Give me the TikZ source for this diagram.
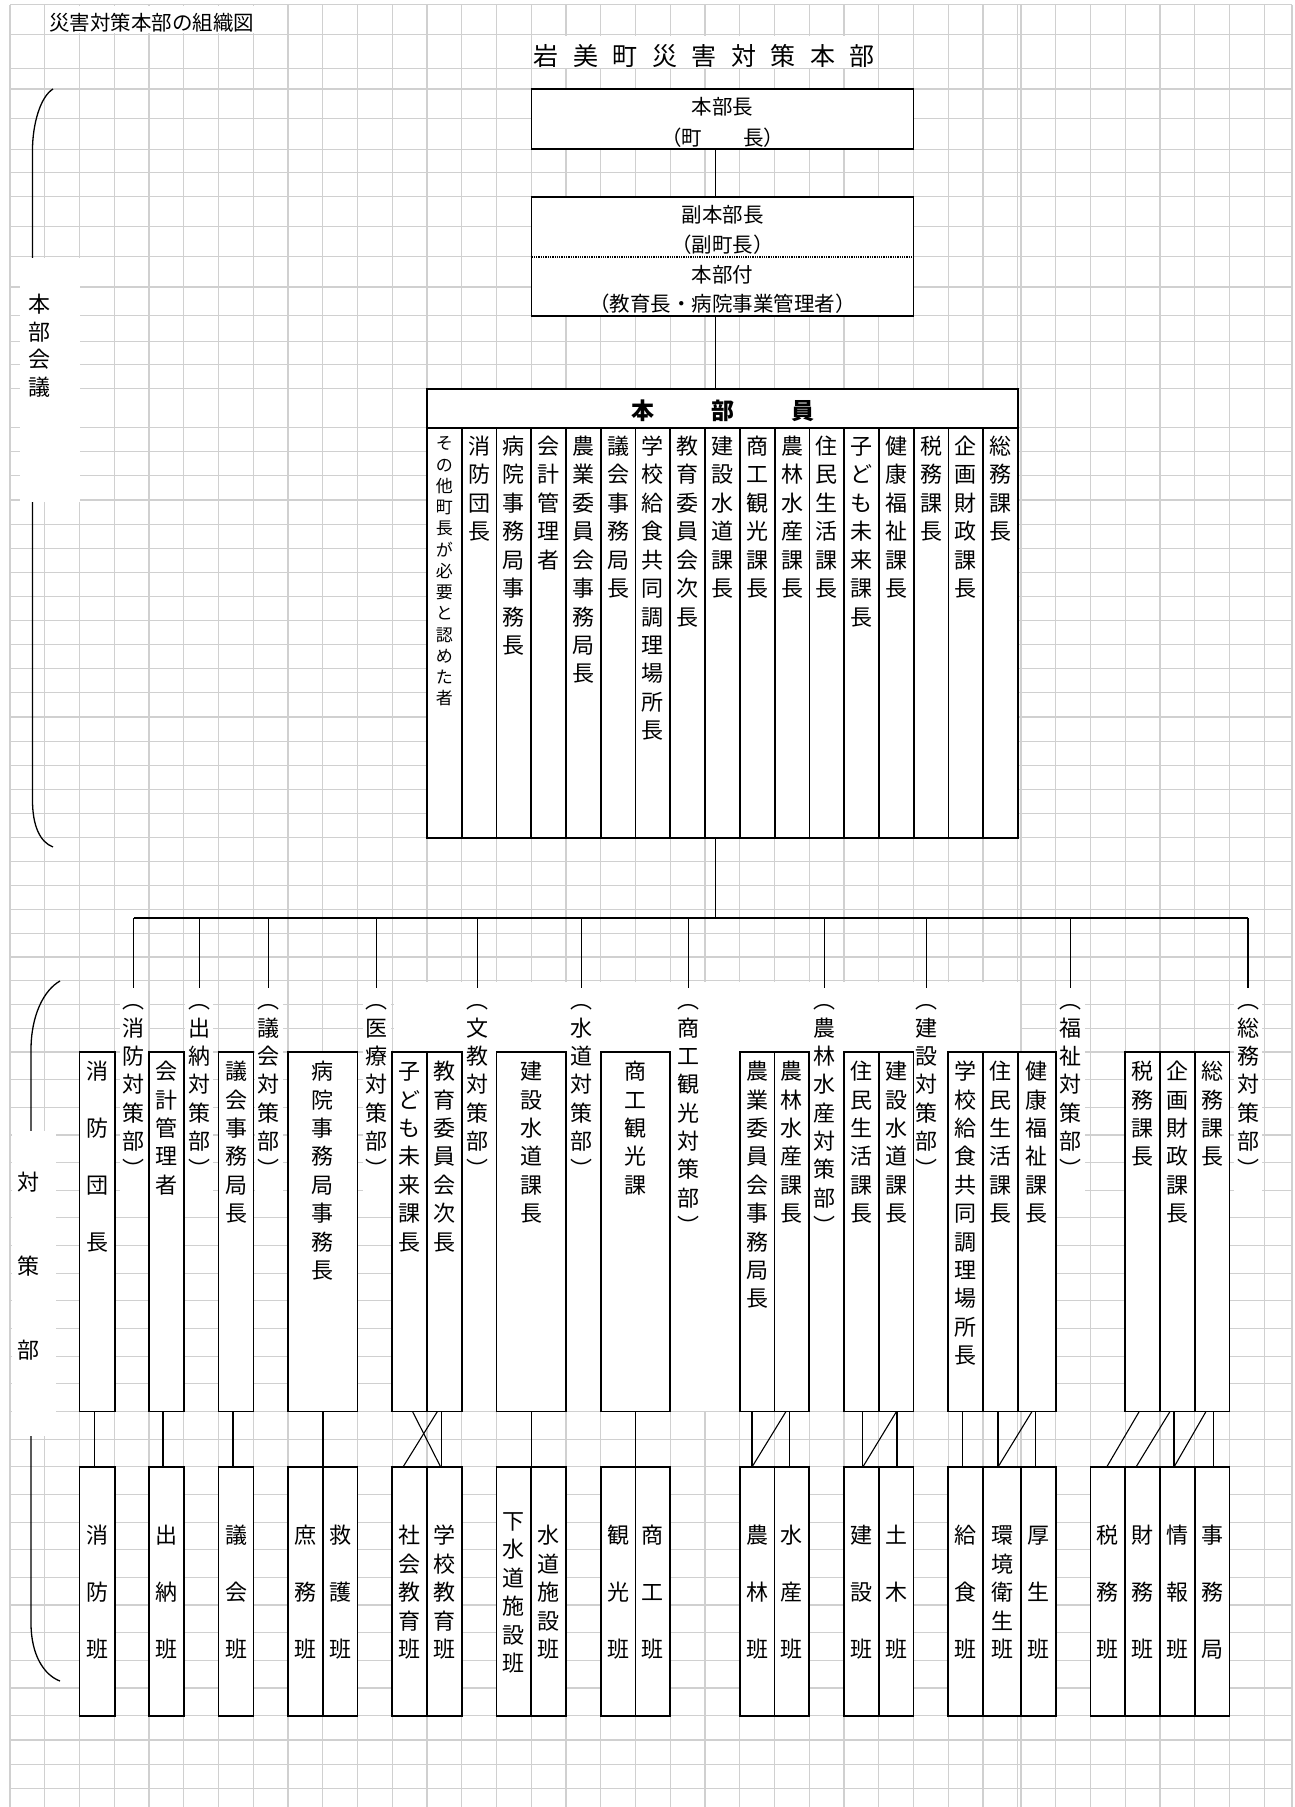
\documentclass[tikz,border=0pt]{standalone}
\usepackage{fontspec}
\newfontfamily\jp{Noto Sans CJK JP}
\XeTeXuseglyphmetrics=0
\definecolor{gridc}{RGB}{208,208,208}
\ExplSyntaxOn
\NewDocumentCommand\mkList{mm}{
  \tl_set:Nx \l_tmpb_tl {#2}
  \seq_clear:N \l_tmpa_seq
  \tl_map_inline:Nn \l_tmpb_tl { \seq_put_right:Nn \l_tmpa_seq {##1} }
  \tl_set:Nx #1 { \seq_use:Nn \l_tmpa_seq {,} }
}
\ExplSyntaxOff
\tikzset{
  ch/.style={inner sep=0pt, outer sep=0pt, font=\jp\fontsize{22}{22}\selectfont},
  sm/.style={font=\jp\fontsize{17}{17}\selectfont},
  txt/.style={inner sep=0pt, font=\jp\fontsize{20.5}{20.5}\selectfont},
  big/.style={inner sep=0pt, font=\jp\fontsize{25}{25}\selectfont},
  hd/.style={inner sep=0pt, font=\jp\bfseries\fontsize{23}{23}\selectfont},
  box/.style={draw=black, line width=1.8pt, fill=white, inner sep=0pt, outer sep=0pt, anchor=north west},
  conn/.style={draw=black, line width=1.1pt},
  brace/.style={draw=black, line width=1.3pt},
  gridl/.style={draw=gridc, line width=1.1pt},
  lbl/.style={fill=white, inner sep=0pt, outer sep=0pt, minimum width=28pt, anchor=north}
}
\newcommand\vstack[6][]{%
  \mkList\tmplist{#6}%
  \foreach \cc [count=\ii from 0] in \tmplist {\node[ch,#1,name=#2-\ii] at ({#3},{#4+\ii*#5}) {\cc};}%
}
\newcommand\bx[5]{\node[box, minimum width={#3-#2}, minimum height={#5-#4}] (#1) at (#2,#4) {};}
\begin{document}
\begin{tikzpicture}[x=1pt,y=-1pt]
\useasboundingbox (0,0) rectangle (1295,1807);
\fill[white] (0,0) rectangle (1295,1807);
% ---------- grid ----------
\foreach \k in {0,...,29} \draw[gridl] ({10+34.75*\k},4.6) -- ({10+34.75*\k},1807);
\foreach \k in {0,...,7} \draw[gridl] ({1021+34.75*\k},4.6) -- ({1021+34.75*\k},1807);
\draw[gridl] (1292,4.6) -- (1292,1807);
\foreach \y in {4.6,34.4,68.9,89,118.8,149.3,172.2,196.3,226.8,256.6,287,315.7,341.6,364.5,388.6}
  \draw[gridl] (10,\y) -- (1292,\y);
\foreach \k in {0,...,19} \draw[gridl] (10,{427.7+24.11*\k}) -- (1292,{427.7+24.11*\k});
\foreach \k in {1,...,7} \draw[gridl] (10,{885.8+23.74*\k}) -- (1292,{885.8+23.74*\k});
\foreach \k in {1,...,24} \draw[gridl] (10,{1052+27.65*\k}) -- (1292,{1052+27.65*\k});
\foreach \y in {1740,1764.2,1788.4} \draw[gridl] (10,\y) -- (1292,\y);
% ---------- braces ----------
\draw[brace] (53,89) .. controls (40,97) and (32.5,125) .. (32.5,150) -- (32.5,800) .. controls (32.5,826) and (40,842) .. (53,847);
\draw[brace] (60,981) .. controls (44,990) and (31,1015) .. (31,1050) -- (31,1623) .. controls (31,1655) and (44,1675) .. (60,1681);
% ---------- white areas ----------
\fill[white] (46.5,5.8) rectangle (287,33.2);
\fill[white] (533,35.6) rectangle (878,67.8);
\fill[white] (20,257.5) rectangle (80,502);
\fill[white] (11.5,1131) rectangle (56,1436);
\fill[white] (393.5,981.5) rectangle (1020,1411);
% ---------- titles ----------
\node[txt, anchor=west] (title) at (49,21.5) {災害対策本部の組織図};
\foreach \c [count=\i from 0] in {岩,美,町,災,害,対,策,本,部}
  \node[big, name=tt\i] at ({546+39.5*\i},55) {\c};
% ---------- top boxes ----------
\bx{hb1}{531.5}{913.5}{89}{149}
\bx{hb2}{531.5}{913.5}{197}{316}
\draw[line width=1.3pt, dash pattern=on 1.3pt off 1pt] ([yshift=-60pt]hb2.north west) -- ([yshift=-60pt]hb2.north east);
\node[txt] (hb1a) at (722.5,106) {本部長};
\node[txt] (hb1b) at (722.5,136.5) {（町　　長）};
\node[txt] (hb2a) at (722.5,214) {副本部長};
\node[txt] (hb2b) at (722.5,244) {（副町長）};
\node[txt] (hb2c) at (722.5,274) {本部付};
\node[txt] (hb2d) at (722.5,303) {（教育長・病院事業管理者）};
% ---------- honbuin ----------
\bx{hdr}{427}{1018}{389}{428}
\node[hd] (hd1) at (643,409.5) {本};
\node[hd] (hd2) at (722.5,409.5) {部};
\node[hd] (hd3) at (802.5,409.5) {員};
\node[box, minimum width=34.765pt, minimum height=410pt] (col0) at (427,428) {};
\vstack[sm]{colt0}{444.38}{442.5}{21.25}{その他町長が必要と認めた者}
\foreach \t [count=\i from 1] in {消防団長,病院事務局事務長,会計管理者,農業委員会事務局長,議会事務局長,学校給食共同調理場所長,教育委員会次長,建設水道課長,商工観光課長,農林水産課長,住民生活課長,子ども未来課長,健康福祉課長,税務課長,企画財政課長,総務課長}{
  \pgfmathsetmacro\xl{427+34.765*\i}
  \node[box, minimum width=34.765pt, minimum height=410pt] (col\i) at (\xl,428) {};
  \vstack{colt\i}{\xl+17.38}{445}{28.4}{\t}
}
% connectors top
\coordinate (c1) at ([xshift=184.2pt]hb1.south west);
\draw[conn] (c1) -- (c1 |- hb2.north);
\coordinate (c2) at ([xshift=184.2pt]hb2.south west);
\draw[conn] (c2) -- (c2 |- hdr.north);
\coordinate (busL) at (133.5,918);
\coordinate (busR) at (1248,918);
\coordinate (c3) at ([xshift=10.58pt]col8.south west);
\draw[conn] (c3) -- (c3 |- busL);
\draw[conn] (busL) -- (busR);
% ---------- labels (white boxes + drops) ----------
\foreach \x/\t/\n [count=\i] in {133.5/︵消防対策部︶/7, 199.4/︵出納対策部︶/7, 268.7/︵議会対策部︶/7, 376.5/︵医療対策部︶/7, 477.2/︵文教対策部︶/7, 581.7/︵水道対策部︶/7, 688.7/︵商工観光対策部︶/9, 824.3/︵農林水産対策部︶/9, 926.2/︵建設対策部︶/7, 1070.7/︵福祉対策部︶/7, 1248/︵総務対策部︶/7}{
  \node[lbl, minimum height={\n*28.3+8}] (L\i) at (\x,988) {};
  \draw[conn] (L\i.north |- busL) -- (L\i.north);
}
% ---------- upper boxes ----------
\bx{ub1}{79.5}{115}{1052}{1411.5}
\bx{ub2}{149}{184}{1052}{1411.5}
\bx{ub3}{218.5}{253.5}{1052}{1411.5}
\bx{ub4}{288}{357.5}{1052}{1411.5}
\bx{ub5a}{392.25}{427}{1052}{1411.5}
\bx{ub5b}{427}{461.75}{1052}{1411.5}
\bx{ub6}{496.5}{566}{1052}{1411.5}
\bx{ub7}{600.75}{670.25}{1052}{1411.5}
\bx{ub8a}{739.75}{774.5}{1052}{1411.5}
\bx{ub8b}{774.5}{809.25}{1052}{1411.5}
\bx{ub9a}{844}{878.75}{1052}{1411.5}
\bx{ub9b}{878.75}{913.5}{1052}{1411.5}
\bx{ub10a}{948.25}{983}{1052}{1411.5}
\bx{ub10b}{983}{1018}{1052}{1411.5}
\bx{ub10c}{1018}{1055.75}{1052}{1411.5}
\bx{ub11a}{1125.25}{1160}{1052}{1411.5}
\bx{ub11b}{1160}{1194.75}{1052}{1411.5}
\bx{ub11c}{1194.75}{1229.5}{1052}{1411.5}
% ---------- lower boxes ----------
\bx{lb1}{79.5}{115}{1467}{1715.7}
\bx{lb2}{149}{184}{1467}{1715.7}
\bx{lb3}{218.5}{253.5}{1467}{1715.7}
\bx{lb4a}{288}{323}{1467}{1715.7}
\bx{lb4b}{323}{357.5}{1467}{1715.7}
\bx{lb5a}{392.25}{427}{1467}{1715.7}
\bx{lb5b}{427}{461.75}{1467}{1715.7}
\bx{lb6a}{496.5}{531.25}{1467}{1715.7}
\bx{lb6b}{531.25}{566}{1467}{1715.7}
\bx{lb7a}{600.75}{635.5}{1467}{1715.7}
\bx{lb7b}{635.5}{670.25}{1467}{1715.7}
\bx{lb8a}{739.75}{774.5}{1467}{1715.7}
\bx{lb8b}{774.5}{809.25}{1467}{1715.7}
\bx{lb9a}{844}{878.75}{1467}{1715.7}
\bx{lb9b}{878.75}{913.5}{1467}{1715.7}
\bx{lb10a}{948.25}{983}{1467}{1715.7}
\bx{lb10b}{983}{1021}{1467}{1715.7}
\bx{lb10c}{1021}{1055.75}{1467}{1715.7}
\bx{lb11a}{1090.5}{1125.25}{1467}{1715.7}
\bx{lb11b}{1125.25}{1160}{1467}{1715.7}
\bx{lb11c}{1160}{1194.75}{1467}{1715.7}
\bx{lb11d}{1194.75}{1229.5}{1467}{1715.7}
% ---------- connectors between upper and lower ----------
\draw[conn] ([xshift=15pt]ub1.south west) -- ([xshift=15pt]lb1.north west);
\draw[conn] ([xshift=14pt]ub2.south west) -- ([xshift=14pt]lb2.north west);
\draw[conn] ([xshift=14.5pt]ub3.south west) -- ([xshift=14.5pt]lb3.north west);
\draw[conn] ([xshift=35pt]ub4.south west) -- (lb4a.north east);
\draw[conn] ([xshift=20.25pt]ub5a.south west) -- ([xshift=13.7pt]lb5b.north west);
\draw[conn] ([xshift=10.4pt]ub5b.south west) -- ([xshift=10.75pt]lb5a.north west);
\draw[conn] ([xshift=14.5pt]ub5b.south west) -- ([xshift=14.5pt]lb5b.north west);
\draw[conn] ([xshift=34.75pt]ub6.south west) -- (lb6a.north east);
\draw[conn] ([xshift=34.75pt]ub7.south west) -- (lb7a.north east);
\draw[conn] ([xshift=12.25pt]ub8a.south west) -- ([xshift=12.25pt]lb8a.north west);
\draw[conn] ([xshift=11.5pt]ub8b.south west) -- ([xshift=12.25pt]lb8a.north west);
\draw[conn] ([xshift=15.2pt]ub8b.south west) -- ([xshift=15.2pt]lb8b.north west);
\draw[conn] ([xshift=18.8pt]ub9a.south west) -- ([xshift=18.8pt]lb9a.north west);
\draw[conn] ([xshift=17.75pt]ub9b.south west) -- ([xshift=18.8pt]lb9a.north west);
\draw[conn] ([xshift=18.25pt]ub9b.south west) -- ([xshift=18.25pt]lb9b.north west);
\draw[conn] ([xshift=14.35pt]ub10a.south west) -- ([xshift=14.35pt]lb10a.north west);
\draw[conn] ([xshift=15pt]ub10b.south west) -- ([xshift=15pt]lb10b.north west);
\draw[conn] ([xshift=14pt]ub10c.south west) -- ([xshift=15pt]lb10b.north west);
\draw[conn] ([xshift=17.3pt]ub10c.south west) -- ([xshift=14.3pt]lb10c.north west);
\draw[conn] ([xshift=14pt]ub11a.south west) -- ([xshift=16.2pt]lb11a.north west);
\draw[conn] ([xshift=10pt]ub11b.south west) -- ([xshift=10.75pt]lb11b.north west);
\draw[conn] ([xshift=14pt]ub11b.south west) -- ([xshift=14pt]lb11c.north west);
\draw[conn] ([xshift=11.25pt]ub11c.south west) -- ([xshift=14pt]lb11c.north west);
\draw[conn] ([xshift=18.55pt]ub11c.south west) -- ([xshift=18.55pt]lb11d.north west);
% ---------- label texts ----------
\foreach \x/\t [count=\i] in {133.5/︵消防対策部︶, 199.4/︵出納対策部︶, 268.7/︵議会対策部︶, 376.5/︵医療対策部︶, 477.2/︵文教対策部︶, 581.7/︵水道対策部︶, 688.7/︵商工観光対策部︶, 824.3/︵農林水産対策部︶, 926.2/︵建設対策部︶, 1070.7/︵福祉対策部︶, 1248/︵総務対策部︶}{
  \vstack{Lt\i}{\x}{998.4}{28.3}{\t}
}
\vstack{hkt}{39}{303}{27.7}{本部会議}
\vstack{tst}{28}{1180.5}{84}{対策部}
% ---------- upper texts ----------
\vstack{ub1t}{97.25}{1070}{28.4}{消　防　団　長}
\vstack{ub2t}{166.5}{1070}{28.4}{会計管理者}
\vstack{ub3t}{236}{1070}{28.4}{議会事務局長}
\vstack{ub4t}{322.75}{1070}{28.4}{病院事務局事務長}
\vstack{ub5at}{409.6}{1070}{28.4}{子ども未来課長}
\vstack{ub5bt}{444.4}{1070}{28.4}{教育委員会次長}
\vstack{ub6t}{531.25}{1070}{28.4}{建設水道課長}
\vstack{ub7t}{635.5}{1070}{28.4}{商工観光課}
\vstack{ub8at}{757.1}{1070}{28.4}{農業委員会事務局長}
\vstack{ub8bt}{791.9}{1070}{28.4}{農林水産課長}
\vstack{ub9at}{861.4}{1070}{28.4}{住民生活課長}
\vstack{ub9bt}{896.1}{1070}{28.4}{建設水道課長}
\vstack{ub10at}{965.6}{1070}{28.4}{学校給食共同調理場所長}
\vstack{ub10bt}{1000.5}{1070}{28.4}{住民生活課長}
\vstack{ub10ct}{1036.9}{1070}{28.4}{健康福祉課長}
\vstack{ub11at}{1142.6}{1070}{28.4}{税務課長}
\vstack{ub11bt}{1177.4}{1070}{28.4}{企画財政課長}
\vstack{ub11ct}{1212.1}{1070}{28.4}{総務課長}
% ---------- lower texts ----------
\vstack{lb1t}{97.25}{1534}{28.5}{消　防　班}
\vstack{lb2t}{166.5}{1534}{28.5}{出　納　班}
\vstack{lb3t}{236}{1534}{28.5}{議　会　班}
\vstack{lb4at}{305.5}{1534}{28.5}{庶　務　班}
\vstack{lb4bt}{340.25}{1534}{28.5}{救　護　班}
\vstack{lb5at}{409.6}{1534}{28.5}{社会教育班}
\vstack{lb5bt}{444.4}{1534}{28.5}{学校教育班}
\vstack{lb6at}{513.9}{1519.75}{28.5}{下水道施設班}
\vstack{lb6bt}{548.6}{1534}{28.5}{水道施設班}
\vstack{lb7at}{618.1}{1534}{28.5}{観　光　班}
\vstack{lb7bt}{652.9}{1534}{28.5}{商　工　班}
\vstack{lb8at}{757.1}{1534}{28.5}{農　林　班}
\vstack{lb8bt}{791.9}{1534}{28.5}{水　産　班}
\vstack{lb9at}{861.4}{1534}{28.5}{建　設　班}
\vstack{lb9bt}{896.1}{1534}{28.5}{土　木　班}
\vstack{lb10at}{965.6}{1534}{28.5}{給　食　班}
\vstack{lb10bt}{1002}{1534}{28.5}{環境衛生班}
\vstack{lb10ct}{1038.4}{1534}{28.5}{厚　生　班}
\vstack{lb11at}{1107.9}{1534}{28.5}{税　務　班}
\vstack{lb11bt}{1142.6}{1534}{28.5}{財　務　班}
\vstack{lb11ct}{1177.4}{1534}{28.5}{情　報　班}
\vstack{lb11dt}{1212.1}{1534}{28.5}{事　務　局}
\end{tikzpicture}
\end{document}
